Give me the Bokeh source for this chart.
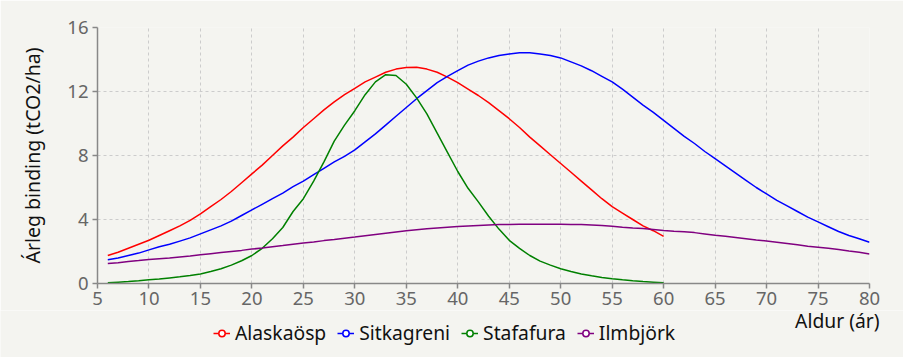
from bokeh.plotting import figure
from bokeh.models import ColumnDataSource, Legend, LegendItem, Label, FixedTicker
from bokeh.layouts import column
from bokeh.embed import file_html
from bokeh.resources import INLINE

# ---- data ----
ages_short = list(range(6, 61))
ages_long = list(range(6, 81))

alaskaosp = [1.75, 1.95, 2.2, 2.45, 2.7, 3.0, 3.3, 3.6, 3.95, 4.35,
             4.8, 5.25, 5.75, 6.3, 6.85, 7.4, 8.0, 8.6, 9.15, 9.75,
             10.3, 10.85, 11.35, 11.8, 12.2, 12.6, 12.9, 13.2, 13.4, 13.5,
             13.52, 13.4, 13.2, 12.9, 12.55, 12.15, 11.75, 11.3, 10.8, 10.3,
             9.75, 9.15, 8.6, 8.05, 7.5, 6.95, 6.4, 5.85, 5.3, 4.8,
             4.4, 4.0, 3.6, 3.3, 2.95]

sitkagreni = [1.48, 1.6, 1.75, 1.9, 2.1, 2.3, 2.45, 2.65, 2.85, 3.1,
              3.35, 3.6, 3.9, 4.25, 4.6, 4.95, 5.3, 5.65, 6.05, 6.4,
              6.8, 7.2, 7.6, 7.95, 8.35, 8.85, 9.35, 9.9, 10.45, 11.0,
              11.55, 12.05, 12.55, 12.95, 13.3, 13.65, 13.9, 14.1, 14.25, 14.35,
              14.42, 14.42, 14.35, 14.25, 14.1, 13.85, 13.6, 13.3, 12.95, 12.6,
              12.15, 11.65, 11.15, 10.7, 10.2, 9.7, 9.2, 8.75, 8.25, 7.8,
              7.35, 6.9, 6.45, 6.0, 5.6, 5.2, 4.85, 4.5, 4.15, 3.85,
              3.55, 3.25, 3.0, 2.8, 2.58]

stafafura = [0.04, 0.08, 0.12, 0.17, 0.23, 0.28, 0.35, 0.42, 0.5, 0.6,
             0.75, 0.92, 1.15, 1.42, 1.75, 2.2, 2.8, 3.5, 4.5, 5.3,
             6.4, 7.6, 8.9, 9.9, 10.8, 11.8, 12.6, 13.05, 13.0, 12.45,
             11.6, 10.6, 9.4, 8.2, 7.0, 5.95, 5.1, 4.2, 3.4, 2.7,
             2.2, 1.75, 1.4, 1.15, 0.92, 0.75, 0.6, 0.48, 0.38, 0.3,
             0.23, 0.17, 0.12, 0.08, 0.04]

ilmbjork = [1.25, 1.3, 1.37, 1.43, 1.5, 1.55, 1.6, 1.66, 1.72, 1.79,
            1.86, 1.93, 2.0, 2.07, 2.15, 2.22, 2.3, 2.37, 2.45, 2.53,
            2.6, 2.68, 2.75, 2.83, 2.9, 2.98, 3.06, 3.14, 3.22, 3.3,
            3.36, 3.42, 3.47, 3.52, 3.56, 3.6, 3.63, 3.66, 3.68, 3.69,
            3.7, 3.7, 3.7, 3.7, 3.7, 3.69, 3.68, 3.65, 3.62, 3.58,
            3.52, 3.47, 3.44, 3.38, 3.31, 3.27, 3.24, 3.18, 3.1, 3.02,
            2.95, 2.88, 2.8, 2.72, 2.65, 2.58, 2.5, 2.42, 2.33, 2.27,
            2.2, 2.12, 2.03, 1.95, 1.85]

series_names = ["Alaskaösp", "Sitkagreni", "Stafafura", "Ilmbjörk"]
x_ticks = [5, 10, 15, 20, 25, 30, 35, 40, 45, 50, 55, 60, 65, 70, 75, 80]
y_ticks = [0, 4, 8, 12, 16]
x_title = "Aldur (ár)"
y_title = "Árleg binding (tCO2/ha)"

FONT = "Noto Sans"
BG = "#f4f4f0"
colors = ["#ff0000", "#0000ff", "#008000", "#800080"]

# ---- main chart ----
p = figure(width=903, height=310, output_backend="svg", toolbar_location=None,
           x_range=(5, 80), y_range=(0, 16),
           min_border_left=97, min_border_right=34, min_border_top=27, min_border_bottom=27)
p.background_fill_color = BG
p.border_fill_color = BG
p.outline_line_color = None

p.xaxis.ticker = FixedTicker(ticks=x_ticks)
p.yaxis.ticker = FixedTicker(ticks=y_ticks)
for ax in (p.xaxis[0], p.yaxis[0]):
    ax.axis_line_color = "#888888"
    ax.axis_line_width = 1.5
    ax.major_tick_line_color = "#888888"
    ax.major_tick_line_width = 1.5
    ax.major_tick_out = 5
    ax.major_tick_in = 0
    ax.minor_tick_line_color = None
    ax.major_label_text_font = FONT
    ax.major_label_text_font_size = "18.5px"
    ax.major_label_text_color = "#666666"
p.yaxis.axis_label = y_title
p.yaxis.axis_label_text_font = FONT
p.yaxis.axis_label_text_font_size = "19.5px"
p.yaxis.axis_label_text_font_style = "normal"
p.yaxis.axis_label_text_color = "#111111"
p.yaxis.axis_label_standoff = 18
p.yaxis.major_label_standoff = 4
p.xaxis.major_label_standoff = 3

p.grid.grid_line_color = "#cccccc"
p.grid.grid_line_dash = "3 3"
p.grid.grid_line_width = 1

sources = [ColumnDataSource(data=dict(x=ages_short, y=alaskaosp)),
           ColumnDataSource(data=dict(x=ages_long, y=sitkagreni)),
           ColumnDataSource(data=dict(x=ages_short, y=stafafura)),
           ColumnDataSource(data=dict(x=ages_long, y=ilmbjork))]

for col, src in zip(colors, sources):
    p.line("x", "y", source=src, line_color=col, line_width=1.5)

# ---- strip below: axis title and legend (its own renderers fall outside its ranges) ----
q = figure(width=903, height=47, output_backend="svg", toolbar_location=None,
           x_range=(0, 903), y_range=(100, 147),
           min_border_left=0, min_border_right=0, min_border_top=0, min_border_bottom=0)
q.axis.visible = False
q.grid.visible = False
q.background_fill_color = BG
q.border_fill_color = BG
q.outline_line_color = None

for fig in (p, q):
    try:
        fig.frame_align = False
    except Exception:
        pass

items = []
for name, col, src in zip(series_names, colors, sources):
    r = q.line("x", "y", source=src, line_color=col, line_width=1.5)
    m = q.scatter("x", "y", source=src, marker="circle", size=7,
                  fill_color="white", line_color=col, line_width=1.5)
    items.append(LegendItem(label=name, renderers=[r, m]))

legend = Legend(items=items, orientation="horizontal", location=(213, 11),
                background_fill_alpha=0, border_line_color=None,
                label_text_font=FONT, label_text_font_size="19.3px", label_text_color="#111111",
                glyph_width=17, glyph_height=16, spacing=11, label_standoff=5,
                padding=0, margin=0)
q.add_layout(legend)

q.add_layout(Label(x=879, y=137.3, text=x_title, text_align="right", text_baseline="alphabetic",
                   text_font=FONT, text_font_size="19.3px", text_color="#111111"))

layout = column(p, q, spacing=0)
open("out.html", "w").write(file_html(layout, INLINE))
